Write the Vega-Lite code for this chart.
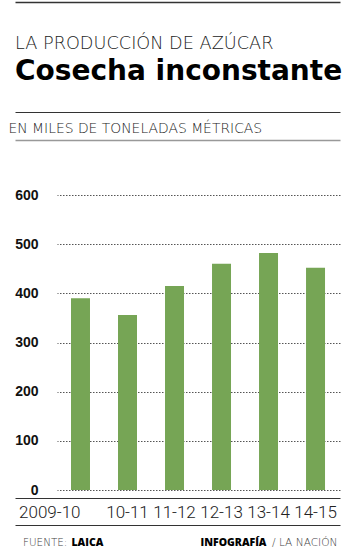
{
  "$schema": "https://vega.github.io/schema/vega-lite/v6.json",
  "width": 325,
  "height": 295,
  "autosize": {"type": "none"},
  "padding": {"left": 15, "top": 195, "right": 15, "bottom": 58},
  "background": "white",
  "config": {"view": {"stroke": null}},
  "title": {
    "text": "LA PRODUCCIÓN DE AZÚCAR",
    "subtitle": "Cosecha inconstante",
    "anchor": "start",
    "frame": "group",
    "font": "DejaVu Sans",
    "fontWeight": 200,
    "fontSize": 17.7,
    "color": "#222222",
    "subtitleFont": "DejaVu Sans",
    "subtitleFontWeight": "bold",
    "subtitleFontSize": 28,
    "subtitleColor": "#000000",
    "subtitlePadding": 5,
    "offset": -84
  },
  "data": {
    "values": [
      {"temporada": "2009-10", "valor": 390},
      {"temporada": "10-11", "valor": 356},
      {"temporada": "11-12", "valor": 415},
      {"temporada": "12-13", "valor": 460},
      {"temporada": "13-14", "valor": 482},
      {"temporada": "14-15", "valor": 452}
    ]
  },
  "resolve": {"axis": {"x": "independent"}},
  "layer": [
    {
      "mark": {"type": "bar", "color": "#76a555"},
      "encoding": {
        "x": {
          "field": "temporada",
          "type": "nominal",
          "sort": null,
          "scale": {"paddingInner": 0.596, "paddingOuter": 0.755, "align": 0.789},
          "axis": {
            "orient": "bottom",
            "offset": 8,
            "ticks": false,
            "domainColor": "#333333",
            "domainWidth": 1,
            "labelFont": "Roboto",
            "labelFontWeight": 300,
            "labelFontSize": 17,
            "labelColor": "#222222",
            "labelAngle": 0,
            "labelPadding": 6,
            "labelAlign": {"condition": {"test": "datum.value === '2009-10'", "value": "right"}, "value": "center"},
            "title": "FUENTE:",
            "titleX": 7.5,
            "titleY": 47,
            "titleAlign": "left",
            "titleBaseline": "alphabetic",
            "titleFont": "DejaVu Sans",
            "titleFontWeight": 200,
            "titleFontSize": 10.4,
            "titleColor": "#444444"
          }
        },
        "y": {
          "field": "valor",
          "type": "quantitative",
          "scale": {"domain": [0, 600], "nice": false},
          "axis": {
            "orient": "left",
            "offset": -325,
            "values": [0, 100, 200, 300, 400, 500, 600],
            "domain": false,
            "grid": false,
            "tickSize": 283,
            "tickColor": "#555555",
            "tickWidth": 1,
            "tickDash": [1.5, 1.5],
            "labelPadding": 19,
            "labelFont": "Liberation Sans",
            "labelFontWeight": "bold",
            "labelFontSize": 14,
            "labelColor": "#111111",
            "labelBaseline": "middle",
            "title": null
          }
        }
      }
    },
    {
      "mark": {"type": "bar", "opacity": 0},
      "encoding": {
        "x": {
          "field": "temporada",
          "type": "nominal",
          "sort": null,
          "axis": {
            "orient": "bottom",
            "offset": 35,
            "ticks": false,
            "labels": false,
            "domainColor": "#333333",
            "domainWidth": 1,
            "title": "LAICA",
            "titleX": 56,
            "titleY": 20,
            "titleAlign": "left",
            "titleBaseline": "alphabetic",
            "titleFont": "Open Sans",
            "titleFontWeight": 800,
            "titleFontSize": 10.5,
            "titleColor": "#000000"
          }
        }
      }
    },
    {
      "mark": {"type": "bar", "opacity": 0},
      "encoding": {
        "x": {
          "field": "temporada",
          "type": "nominal",
          "sort": null,
          "axis": {
            "orient": "top",
            "offset": 55,
            "ticks": false,
            "labels": false,
            "domainColor": "#999999",
            "domainWidth": 1.5,
            "title": "EN MILES DE TONELADAS MÉTRICAS",
            "titleX": -7,
            "titleY": -8,
            "titleAlign": "left",
            "titleBaseline": "alphabetic",
            "titleFont": "DejaVu Sans",
            "titleFontWeight": 200,
            "titleFontSize": 13.9,
            "titleColor": "#222222"
          }
        }
      }
    },
    {
      "mark": {"type": "bar", "opacity": 0},
      "encoding": {
        "x": {
          "field": "temporada",
          "type": "nominal",
          "sort": null,
          "axis": {
            "orient": "top",
            "offset": 83,
            "ticks": false,
            "labels": false,
            "domainColor": "#333333",
            "domainWidth": 1,
            "title": "INFOGRAFÍA",
            "titleX": 251,
            "titleY": 433,
            "titleAlign": "right",
            "titleBaseline": "alphabetic",
            "titleFont": "Open Sans",
            "titleFontWeight": 800,
            "titleFontSize": 10.5,
            "titleColor": "#000000"
          }
        }
      }
    },
    {
      "mark": {"type": "bar", "opacity": 0},
      "encoding": {
        "x": {
          "field": "temporada",
          "type": "nominal",
          "sort": null,
          "axis": {
            "orient": "top",
            "offset": 193,
            "ticks": false,
            "labels": false,
            "domainColor": "#333333",
            "domainWidth": 1.5,
            "title": "/ LA NACIÓN",
            "titleX": 322,
            "titleY": 543,
            "titleAlign": "right",
            "titleBaseline": "alphabetic",
            "titleFont": "DejaVu Sans",
            "titleFontWeight": 200,
            "titleFontSize": 10.6,
            "titleColor": "#444444"
          }
        }
      }
    }
  ]
}
